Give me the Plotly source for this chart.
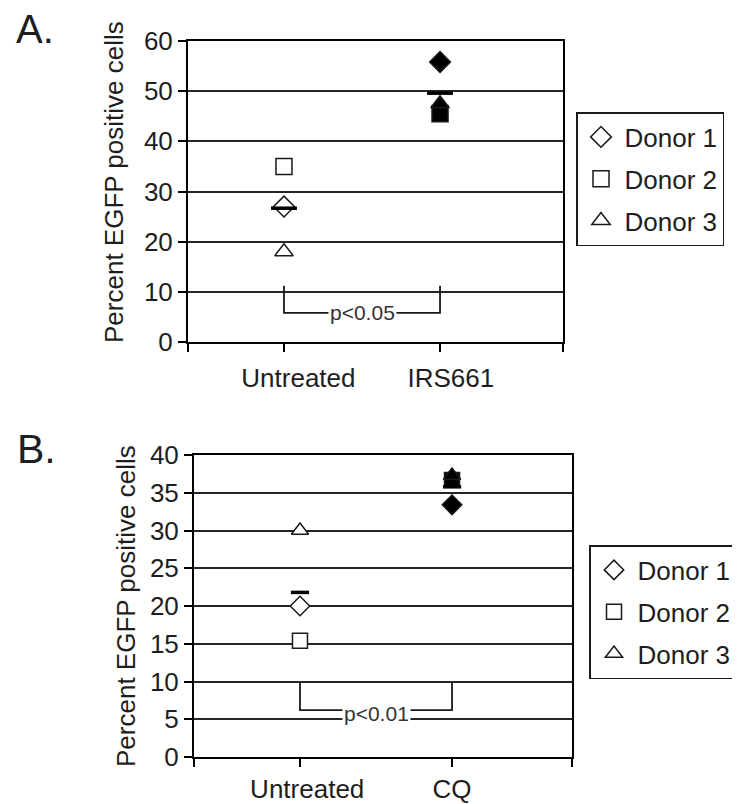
import numpy as np
import plotly.graph_objects as go

# ---------------- data ----------------
categories_A = ["Untreated", "IRS661"]
categories_B = ["Untreated", "CQ"]
donors = ["Donor 1", "Donor 2", "Donor 3"]
symbols = ["diamond", "square", "triangle-up"]

donor1_A = [27.0, 55.8]
donor2_A = [35.0, 45.5]
donor3_A = [18.0, 47.5]

donor1_B = [20.0, 33.4]
donor2_B = [15.4, 36.7]
donor3_B = [30.0, 37.3]

y_ticks_A = [0, 10, 20, 30, 40, 50, 60]
y_ticks_B = [0, 5, 10, 15, 20, 25, 30, 35, 40]

p_label_A = "p<0.05"
p_label_B = "p<0.01"
bracket_A = [11.2, 5.8]   # top, bottom
bracket_B = [10.0, 6.2]

y_title = "Percent EGFP positive cells"

# ---------------- layout helpers ----------------
W, H = 740, 804
OFF = 8  # page body margin


def px(x):
    return (x - OFF) / W


def py(y):
    return 1 - (y - OFF) / H


FONT = "Liberation Sans, Arial, sans-serif"
TXT = "#1e1e1e"
GRID = "#262626"
fill_colors = ["white", "black"]
NB = "\u00a0"

xr_A = [-0.615, 1.788]
xr_B = [-0.697, 1.789]

fig = go.Figure()


def add_panel(vals, cats, xa, ya, legend, msize, mean_size):
    x = list(range(len(cats)))
    for name, sym, v in zip(donors, symbols, vals):
        fig.add_trace(go.Scatter(
            x=x, y=v, mode="markers", name=name, xaxis=xa, yaxis=ya,
            legend=legend, legendgroup=legend + name,
            marker=dict(symbol=sym, size=msize, color=fill_colors,
                        line=dict(color="#1a1a1a", width=1.5)),
            cliponaxis=False,
        ))
    means = np.mean(np.array(vals), axis=0)
    fig.add_trace(go.Scatter(
        x=x, y=means, mode="markers", showlegend=False, xaxis=xa, yaxis=ya,
        marker=dict(symbol="line-ew", size=mean_size,
                    line=dict(color="black", width=3.5)),
        cliponaxis=False,
    ))


add_panel([donor1_A, donor2_A, donor3_A], categories_A, "x", "y", "legend", 16, 18.5)
add_panel([donor1_B, donor2_B, donor3_B], categories_B, "x2", "y2", "legend2", 15, 13)

axis_common = dict(showline=True, linecolor="black", linewidth=2, mirror=True,
                   ticks="outside", ticklen=8, tickwidth=1.5, tickcolor="black",
                   tickfont=dict(family=FONT, size=26, color=TXT),
                   zeroline=False, automargin=False, fixedrange=True)

legend_common = dict(xanchor="left", yanchor="top", bgcolor="white",
                     bordercolor="#1a1a1a", borderwidth=1.5, itemwidth=37,
                     font=dict(family=FONT, size=26, color=TXT), tracegroupgap=5)

fig.update_layout(
    width=W, height=H,
    margin=dict(l=0, r=0, t=0, b=0),
    paper_bgcolor="white", plot_bgcolor="white",
    font=dict(family=FONT, size=26, color=TXT),
    xaxis=dict(domain=[px(188), px(563)], range=xr_A,
               tickvals=[xr_A[0], 0, 1, xr_A[1]],
               ticktext=["", NB * 4 + categories_A[0], NB * 3 + categories_A[1], ""],
               ticklabelstandoff=4,
               showgrid=False, anchor="y", **axis_common),
    yaxis=dict(domain=[py(342), py(41)], range=[0, 60], tickvals=y_ticks_A,
               showgrid=True, gridcolor=GRID, gridwidth=1.6, anchor="x", **axis_common),
    xaxis2=dict(domain=[px(194), px(572)], range=xr_B,
                tickvals=[xr_B[0], 0, 1, xr_B[1]],
                ticktext=["", NB * 2 + categories_B[0], categories_B[1], ""],
                ticklabelstandoff=0,
                showgrid=False, anchor="y2", **axis_common),
    yaxis2=dict(domain=[py(757), py(455)], range=[0, 40], tickvals=y_ticks_B,
                showgrid=True, gridcolor=GRID, gridwidth=1.6, anchor="x2", **axis_common),
    legend=dict(x=px(576), y=py(112), **legend_common),
    legend2=dict(x=px(589), y=py(545), **legend_common),
)

# brackets
for (xa, ya, br) in [("x", "y", bracket_A), ("x2", "y2", bracket_B)]:
    top, bot = br
    fig.add_shape(type="path", xref=xa, yref=ya,
                  path=f"M 0,{top} L 0,{bot} L 1,{bot} L 1,{top}",
                  line=dict(color="#1a1a1a", width=1.8), layer="above")

fig.add_annotation(x=0.5, y=bracket_A[1], xref="x", yref="y", text=p_label_A,
                   showarrow=False, bgcolor="white", borderpad=1,
                   font=dict(family=FONT, size=21, color="#333"))
fig.add_annotation(x=0.5, y=bracket_B[1] - 0.4, xref="x2", yref="y2", text=p_label_B,
                   showarrow=False, bgcolor="white", borderpad=1,
                   font=dict(family=FONT, size=21, color="#333"))

# y titles
fig.add_annotation(x=px(114), y=py(182), xref="paper", yref="paper", text=y_title,
                   textangle=-90, showarrow=False, xanchor="center", yanchor="middle",
                   font=dict(family=FONT, size=26, color=TXT))
fig.add_annotation(x=px(126), y=py(606), xref="paper", yref="paper", text=y_title,
                   textangle=-90, showarrow=False, xanchor="center", yanchor="middle",
                   font=dict(family=FONT, size=26, color=TXT))

# panel labels
fig.add_annotation(x=px(14), y=py(29), xref="paper", yref="paper", text="A.",
                   xanchor="left", yanchor="middle", showarrow=False,
                   font=dict(family=FONT, size=40, color=TXT))
fig.add_annotation(x=px(15), y=py(449), xref="paper", yref="paper", text="B.",
                   xanchor="left", yanchor="middle", showarrow=False,
                   font=dict(family=FONT, size=41, color=TXT))

fig.write_html("out.html")
